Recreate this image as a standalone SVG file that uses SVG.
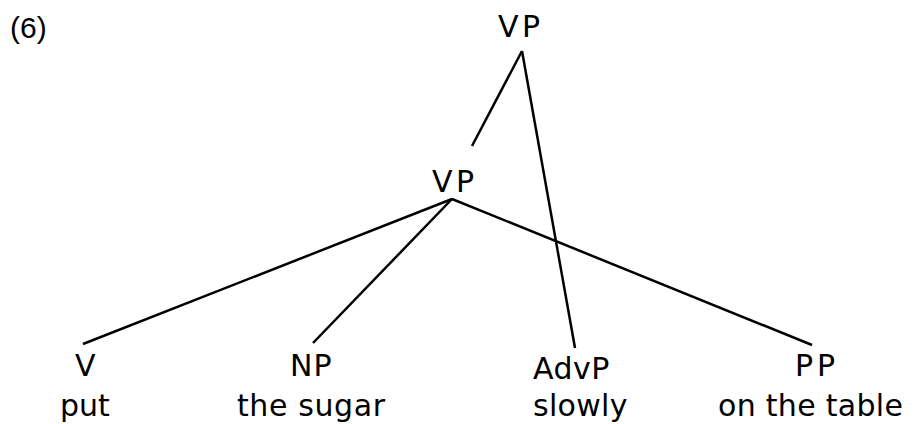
<svg xmlns="http://www.w3.org/2000/svg" width="915" height="424" viewBox="0 0 915 424">
  <style>
    .lbl { font-family: "DejaVu Sans", Verdana, sans-serif; font-size: 30px; fill: #000; }
    .num { font-family: "Liberation Sans", Arial, sans-serif; font-size: 30px; fill: #000; }
    .edge { stroke: #000; stroke-width: 2.5; fill: none; stroke-linecap: butt; }
  </style>
  <rect width="915" height="424" fill="#fff"/>

  <text class="num" x="10" y="38">(6)</text>

  <g id="connectors">
    <line class="edge" x1="522" y1="51" x2="472" y2="146"/>
    <line class="edge" x1="522" y1="51" x2="575" y2="348"/>
    <line class="edge" x1="452" y1="199" x2="83" y2="344"/>
    <line class="edge" x1="452" y1="199" x2="313" y2="343"/>
    <line class="edge" x1="452" y1="199" x2="812" y2="345"/>
  </g>

  <g id="vp-top"><text class="lbl" x="498" y="37" letter-spacing="3.5">VP</text></g>
  <g id="vp-inner"><text class="lbl" x="432" y="192" letter-spacing="3.5">VP</text></g>
  <g id="v"><text class="lbl" x="75" y="376">V</text><text class="lbl" x="60" y="416">put</text></g>
  <g id="np"><text class="lbl" x="290" y="376" letter-spacing="1">NP</text><text class="lbl" x="237" y="416" letter-spacing="0.6">the sugar</text></g>
  <g id="advp"><text class="lbl" x="533" y="379" letter-spacing="0.5">AdvP</text><text class="lbl" x="533" y="416" letter-spacing="0.3">slowly</text></g>
  <g id="pp"><text class="lbl" x="795" y="376" letter-spacing="3.8">PP</text><text class="lbl" x="718" y="416" letter-spacing="0.3">on the table</text></g>
</svg>
